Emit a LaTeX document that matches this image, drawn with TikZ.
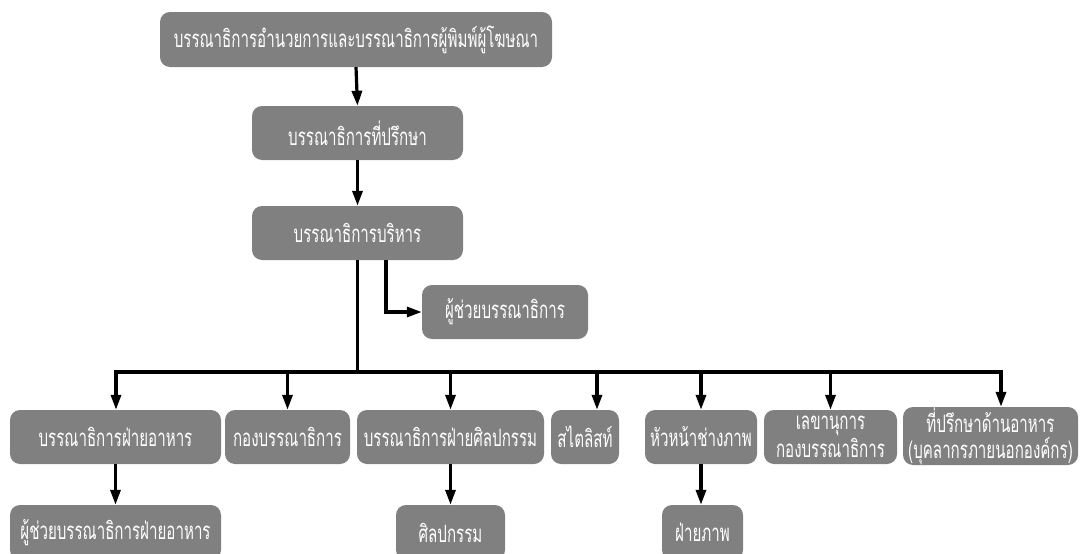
\documentclass[tikz,border=0pt]{standalone}
\usepackage{fontspec}
\newfontfamily\thai[Script=Thai,FakeStretch=0.63]{Loma}
\usetikzlibrary{arrows.meta}
\definecolor{boxgray}{RGB}{128,128,128}
\tikzset{
  orgbox/.style={fill=boxgray, rounded corners=10pt, text=white, font=\thai\fontsize{24}{25}\selectfont, align=center, inner sep=0pt},
  conn/.style={line width=3.2pt, draw=black},
  arr/.style={conn, -{Triangle[length=15pt,width=10pt]}},
}
\begin{document}
\begin{tikzpicture}[x=1pt,y=-1pt]
\clip (0,0) rectangle (1080,554);
\useasboundingbox (0,0) rectangle (1080,554);
\fill[white] (0,0) rectangle (1080,554);
% boxes
\node[orgbox, minimum width=392pt, minimum height=55pt] (top) at (356,39.5) {บรรณาธิการอำนวยการและบรรณาธิการผู้พิมพ์ผู้โฆษณา};
\node[orgbox, minimum width=211pt, minimum height=54pt] (adv) at (357.5,133) {บรรณาธิการที่ปรึกษา};
\node[orgbox, minimum width=211pt, minimum height=54pt] (exec) at (357.5,233) {บรรณาธิการบริหาร};
\node[orgbox, minimum width=166pt, minimum height=54pt] (asst) at (505,312) {ผู้ช่วยบรรณาธิการ};
\node[orgbox, minimum width=211pt, minimum height=54pt] (food) at (115.5,437) {บรรณาธิการฝ่ายอาหาร};
\node[orgbox, minimum width=125pt, minimum height=54pt] (board) at (287.5,437) {กองบรรณาธิการ};
\node[orgbox, minimum width=187pt, minimum height=54pt] (art) at (450.5,437) {บรรณาธิการฝ่ายศิลปกรรม};
\node[orgbox, minimum width=68pt, minimum height=54pt] (style) at (585,437) {สไตลิสท์};
\node[orgbox, minimum width=112pt, minimum height=54pt] (photo) at (701,437) {หัวหน้าช่างภาพ};
\node[orgbox, minimum width=133pt, minimum height=54pt] (sec) at (830.5,437) {เลขานุการ\\[1pt]กองบรรณาธิการ};
\node[orgbox, minimum width=175pt, minimum height=58pt] (cons) at (990.5,436) {ที่ปรึกษาด้านอาหาร\\[1pt](บุคลากรภายนอกองค์กร)};
\node[orgbox, minimum width=211pt, minimum height=55pt] (foodasst) at (115.5,532.5) {ผู้ช่วยบรรณาธิการฝ่ายอาหาร};
\node[orgbox, minimum width=109pt, minimum height=55pt] (artdept) at (450.5,532.5) {ศิลปกรรม};
\node[orgbox, minimum width=81pt, minimum height=55pt] (photodept) at (702.5,532.5) {ฝ่ายภาพ};
% connectors
\draw[arr] (top.south) -- (adv.north);
\draw[arr] (adv.south) -- (exec.north);
\coordinate (busL) at (116,372);
\coordinate (busR) at (1001,372);
\coordinate (busM) at (357.5,372);
\draw[conn] (exec.south) -- (busM);
\coordinate (br) at (386,260);
\draw[arr] (br) |- (asst.west);
\draw[conn, line cap=rect] (busL) -- (busR);
\draw[arr] (busL) -- (food.north -| busL);
\draw[arr] (board.north |- busL) -- (board.north);
\draw[arr] (art.north |- busL) -- (art.north);
\coordinate (dx) at (597,372);
\draw[arr] (dx) -- (style.north -| dx);
\draw[arr] (photo.north |- busL) -- (photo.north);
\draw[arr] (sec.north |- busL) -- (sec.north);
\draw[arr] (busR) -- (cons.north -| busR);
\draw[arr] (food.south) -- (foodasst.north);
\draw[arr] (art.south) -- (artdept.north);
\draw[arr] (photo.south) -- (photodept.north -| photo.south);
\end{tikzpicture}
\end{document}
